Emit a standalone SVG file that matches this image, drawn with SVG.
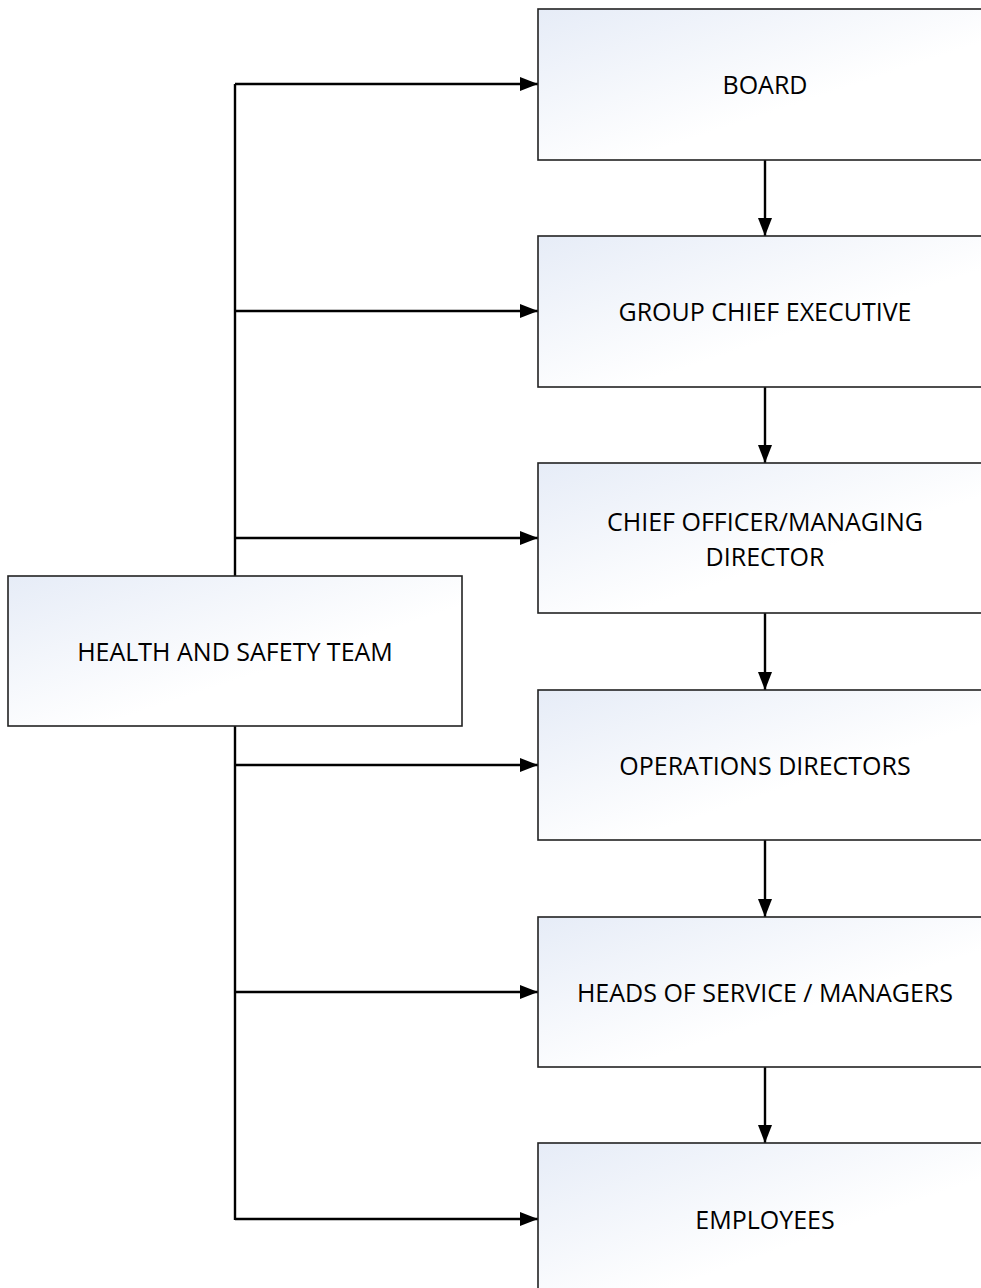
<svg xmlns="http://www.w3.org/2000/svg" width="981" height="1288" viewBox="0 0 981 1288">
<defs>
<linearGradient id="g" x1="0" y1="0" x2="1" y2="1">
<stop offset="0" stop-color="#e6ecf7"/>
<stop offset="0.6" stop-color="#ffffff"/>
<stop offset="1" stop-color="#ffffff"/>
</linearGradient>
<marker id="ah" viewBox="0 0 18 14" refX="18" refY="7" markerWidth="18" markerHeight="14" markerUnits="userSpaceOnUse" orient="auto">
<path d="M0,0 L18,7 L0,14 Z" fill="#000"/>
</marker>
<style>
.box{fill:url(#g);stroke:#222;stroke-width:1.6}
.lbl{font-family:"Open Sans","Liberation Sans",sans-serif;font-size:25px;fill:#000;text-anchor:middle}
.c{fill:none;stroke:#000;stroke-width:2.4}
</style>
</defs>
<g id="connectors">
<path class="c" d="M235,576 V84"/>
<path class="c" d="M235,726 V1220"/>
<path class="c" d="M235,84 H538" marker-end="url(#ah)"/>
<path class="c" d="M235,311 H538" marker-end="url(#ah)"/>
<path class="c" d="M235,538 H538" marker-end="url(#ah)"/>
<path class="c" d="M235,765 H538" marker-end="url(#ah)"/>
<path class="c" d="M235,992 H538" marker-end="url(#ah)"/>
<path class="c" d="M235,1219 H538" marker-end="url(#ah)"/>
<path class="c" d="M765,160 V236" marker-end="url(#ah)"/>
<path class="c" d="M765,387 V463" marker-end="url(#ah)"/>
<path class="c" d="M765,613 V690" marker-end="url(#ah)"/>
<path class="c" d="M765,840 V917" marker-end="url(#ah)"/>
<path class="c" d="M765,1067 V1143" marker-end="url(#ah)"/>
</g>
<g id="board"><rect class="box" x="538" y="9" width="454" height="151"/><text class="lbl" x="765" y="94">BOARD</text></g>
<g id="gce"><rect class="box" x="538" y="236" width="454" height="151"/><text class="lbl" x="765" y="321">GROUP CHIEF EXECUTIVE</text></g>
<g id="comd"><rect class="box" x="538" y="463" width="454" height="150"/><text class="lbl" x="765" y="531">CHIEF OFFICER/MANAGING</text><text class="lbl" x="765" y="566">DIRECTOR</text></g>
<g id="ops"><rect class="box" x="538" y="690" width="454" height="150"/><text class="lbl" x="765" y="775">OPERATIONS DIRECTORS</text></g>
<g id="heads"><rect class="box" x="538" y="917" width="454" height="150"/><text class="lbl" x="765" y="1002">HEADS OF SERVICE / MANAGERS</text></g>
<g id="employees"><rect class="box" x="538" y="1143" width="454" height="160"/><text class="lbl" x="765" y="1229">EMPLOYEES</text></g>
<g id="hs"><rect class="box" x="8" y="576" width="454" height="150"/><text class="lbl" x="235" y="661">HEALTH AND SAFETY TEAM</text></g>
</svg>
